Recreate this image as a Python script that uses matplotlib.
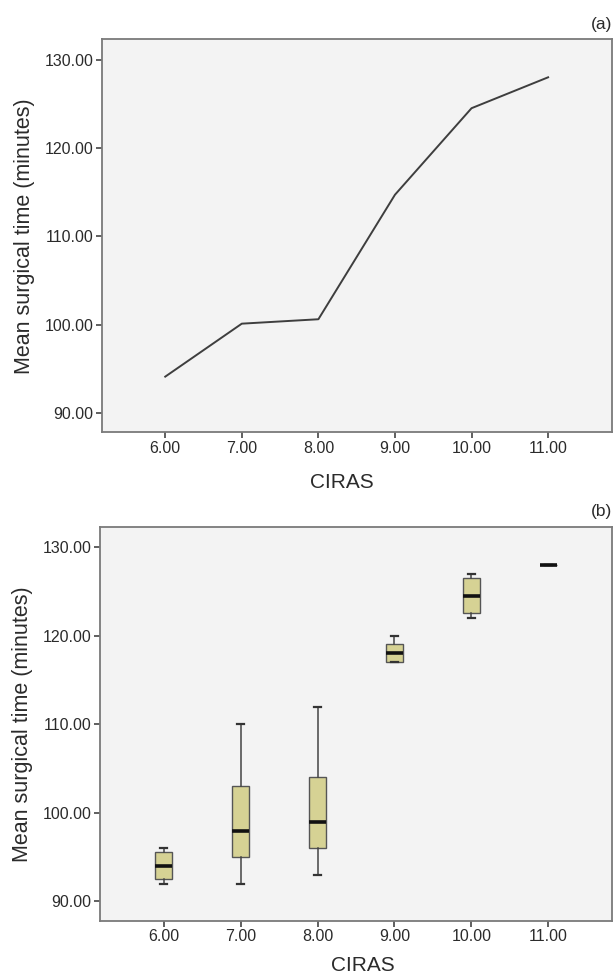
import matplotlib
matplotlib.use("Agg")
import matplotlib.pyplot as plt

plt.rcParams['font.family'] = ['Liberation Sans', 'DejaVu Sans']

# --- Data ---
ciras = [6.0, 7.0, 8.0, 9.0, 10.0, 11.0]
mean_time = [94.1, 100.1, 100.6, 114.7, 124.5, 128.0]

# box plot summaries per CIRAS value
box_whislo = [92.0, 92.0, 93.0, 117.0, 122.0, 128.0]
box_q1 = [92.5, 95.0, 96.0, 117.0, 122.5, 128.0]
box_med = [94.0, 98.0, 99.0, 118.0, 124.5, 128.0]
box_q3 = [95.6, 103.0, 104.0, 119.0, 126.5, 128.0]
box_whishi = [96.0, 110.0, 112.0, 120.0, 127.0, 128.0]

y_ticks = [90, 100, 110, 120, 130]
x_label = "CIRAS"
y_label = "Mean surgical time (minutes)"

# --- Style ---
AX_BG = '#f3f3f3'
SPINE = '#7a7a7a'
TEXT = '#2b2b2b'
BOX_FILL = '#d6d294'
XLIM = (5.17, 11.83)
YLIM = (87.8, 132.3)


def style_axes(ax, xlabel_pos):
    ax.set_facecolor(AX_BG)
    for s in ax.spines.values():
        s.set_color(SPINE)
        s.set_linewidth(1.3)
    ax.set_xlim(*XLIM)
    ax.set_ylim(*YLIM)
    ax.set_xticks(ciras)
    ax.set_xticklabels([f"{v:.2f}" for v in ciras])
    ax.set_yticks(y_ticks)
    ax.set_yticklabels([f"{v:.2f}" for v in y_ticks])
    ax.tick_params(colors=TEXT, labelsize=11.5, length=4, width=1.2,
                   color='#444444', pad=2)
    ax.set_xlabel(x_label, fontsize=15, color=TEXT, va='center')
    ax.xaxis.set_label_coords(*xlabel_pos)
    ax.set_ylabel(y_label, fontsize=15.5, color=TEXT, labelpad=7)


fig = plt.figure(figsize=(6.14, 9.76), dpi=100)

# (a) line of means
ax1 = fig.add_axes([0.1656, 0.5571, 0.8306, 0.4026])
ax1.plot(ciras, mean_time, color='#3e3e3e', linewidth=1.4)
style_axes(ax1, (0.471, -0.127))
fig.text(0.997, 0.975, "(a)", ha='right', va='center', fontsize=12.5, color=TEXT)

# (b) boxplots
ax2 = fig.add_axes([0.1629, 0.0564, 0.8338, 0.4040])
stats = []
for i in range(len(ciras)):
    stats.append(dict(whislo=box_whislo[i], q1=box_q1[i], med=box_med[i],
                      q3=box_q3[i], whishi=box_whishi[i], fliers=[]))
ax2.bxp(stats, positions=ciras, widths=0.22, patch_artist=True,
        showfliers=False, manage_ticks=False,
        boxprops=dict(facecolor=BOX_FILL, edgecolor='#555555', linewidth=1.0),
        medianprops=dict(color='#111111', linewidth=2.6),
        whiskerprops=dict(color='#444444', linewidth=1.1),
        capprops=dict(color='#333333', linewidth=1.6),
        capwidths=0.09)
style_axes(ax2, (0.514, -0.112))
fig.text(0.997, 0.476, "(b)", ha='right', va='center', fontsize=12.5, color=TEXT)

fig.savefig("out.png", dpi=100)
